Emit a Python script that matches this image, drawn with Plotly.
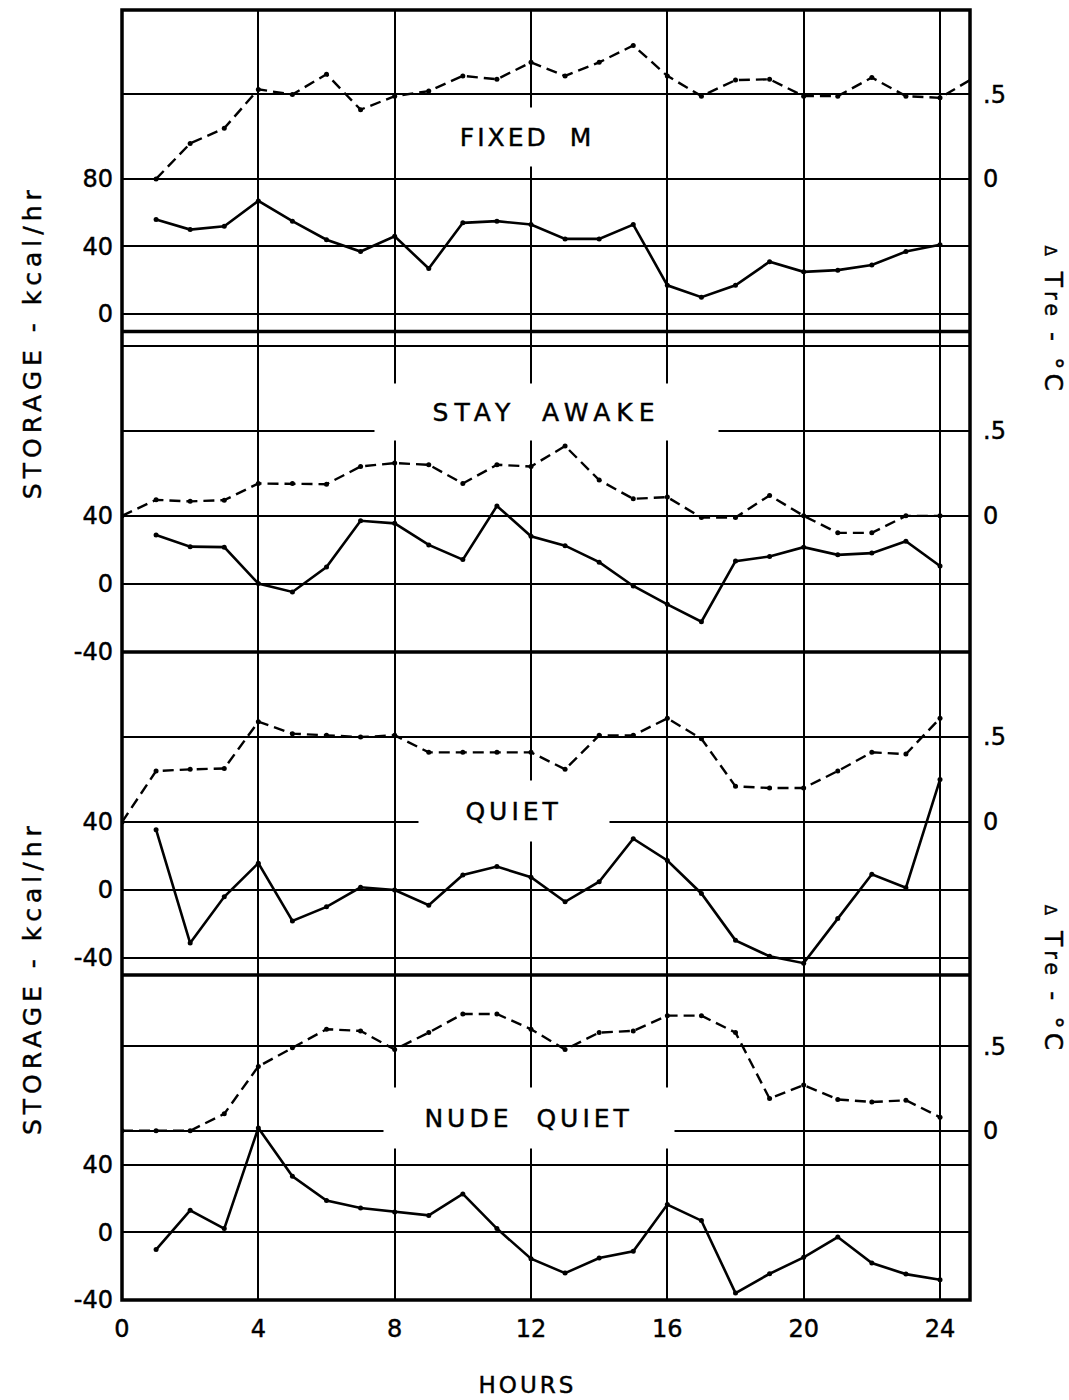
import plotly.graph_objects as go

# ---------------- data ----------------
hours_1_24 = list(range(1, 25))
hours_0_24 = list(range(0, 25))
hours_1_25 = list(range(1, 26))

x_tick_vals = [0, 4, 8, 12, 16, 20, 24]
x_tick_text = ["0", "4", "8", "12", "16", "20", "24"]

panel_titles = ["FIXED M", "STAY AWAKE", "QUIET", "NUDE QUIET"]

# FIXED M
fixed_storage = [56, 50, 52, 67, 55, 44, 37, 46, 27, 54, 55, 53, 44.5, 44.5, 53,
                 17, 10, 17, 31, 25, 26, 29, 37, 41]
fixed_tre = [0.0, 0.21, 0.30, 0.53, 0.50, 0.62, 0.41, 0.49, 0.52, 0.61, 0.59, 0.69,
             0.61, 0.69, 0.79, 0.61, 0.49, 0.585, 0.59, 0.49, 0.49, 0.60, 0.49, 0.48, 0.60]

# STAY AWAKE
awake_storage = [28.7, 21.9, 21.6, 0.2, -4.7, 9.9, 37.1, 35.6, 22.9, 14.3, 45.8, 28,
                 22.5, 12.8, -1.2, -12, -22.2, 13.4, 16.1, 21.6, 17.1, 18.1, 25.1, 10.5]
awake_tre = [0.0, 0.094, 0.085, 0.092, 0.19, 0.19, 0.186, 0.29, 0.31, 0.30, 0.19, 0.30,
             0.29, 0.41, 0.21, 0.10, 0.11, -0.01, -0.01, 0.12, 0.0, -0.10, -0.10, 0.0, 0.0]

# QUIET
quiet_storage = [35.5, -31.2, -4, 15.8, -18.2, -9.9, 1.6, 0, -8.9, 8.9, 13.8, 7.5,
                 -6.9, 4.9, 30.2, 17.4, -2, -29.6, -39, -43, -16.8, 9.3, 1.4, 65]
quiet_tre = [0.0, 0.30, 0.31, 0.315, 0.59, 0.52, 0.51, 0.50, 0.51, 0.41, 0.41, 0.41,
             0.41, 0.31, 0.51, 0.51, 0.61, 0.49, 0.21, 0.20, 0.20, 0.30, 0.41, 0.40, 0.61]

# NUDE QUIET
nude_storage = [-10.2, 13, 2.2, 61.7, 33.1, 18.8, 14.4, 12, 10, 22.7, 2.2, -15.6,
                -24.1, -15.2, -11.2, 16.4, 6.9, -35.9, -24.5, -14.8, -2.8, -18.2, -24.7, -28]
nude_tre = [0.0, 0.0, 0.0, 0.10, 0.38, 0.49, 0.60, 0.59, 0.48, 0.58, 0.69, 0.69,
            0.60, 0.48, 0.58, 0.59, 0.68, 0.68, 0.58, 0.19, 0.27, 0.185, 0.17, 0.18, 0.08]

# ---------------- per-panel configuration ----------------
panels = [
    dict(s_x=hours_1_24, s=fixed_storage, t_x=hours_1_25, t=fixed_tre,
         domain=[0.7512, 1.0], s_range=[-10, 180], t_range=[-0.9, 1.0],
         s_ticks=[0, 40, 80], s_text=["0", "40", "80"],
         t_ticks=[0, 0.5], t_text=["0", ".5"],
         title_x=11.88, title_y=0.25, box_w=150, box_h=58),
    dict(s_x=hours_1_24, s=awake_storage, t_x=hours_0_24, t=awake_tre,
         domain=[0.5023, 0.7504], s_range=[-40, 148], t_range=[-0.8, 1.08],
         s_ticks=[-40, 0, 40], s_text=["-40", "0", "40"],
         t_ticks=[0, 0.5, 1.0], t_text=["0", ".5", ""],
         title_x=12.46, title_y=0.61, box_w=343, box_h=56),
    dict(s_x=hours_1_24, s=quiet_storage, t_x=hours_0_24, t=quiet_tre,
         domain=[0.2519, 0.5023], s_range=[-50, 140], t_range=[-0.9, 1.0],
         s_ticks=[-40, 0, 40], s_text=["-40", "0", "40"],
         t_ticks=[0, 0.5], t_text=["0", ".5"],
         title_x=11.5, title_y=0.067, box_w=190, box_h=60),
    dict(s_x=hours_1_24, s=nude_storage, t_x=hours_0_24, t=nude_tre,
         domain=[0.0, 0.2519], s_range=[-40, 152], t_range=[-1.0, 0.92],
         s_ticks=[-40, 0, 40], s_text=["-40", "0", "40"],
         t_ticks=[0, 0.5], t_text=["0", ".5"],
         title_x=11.95, title_y=0.078, box_w=290, box_h=60),
]

FONT = "DejaVu Sans"
BLACK = "#000000"

fig = go.Figure()
layout = dict(
    width=1069, height=1400,
    margin=dict(l=122, r=99, t=10, b=100),
    paper_bgcolor="white", plot_bgcolor="white",
    showlegend=False,
    font=dict(family=FONT, size=24, color=BLACK),
    xaxis=dict(range=[0, 24.88], tickvals=x_tick_vals, ticktext=x_tick_text,
               showgrid=True, gridcolor=BLACK, gridwidth=1.6, zeroline=False,
               showline=False, ticks="", anchor="y7", domain=[0, 1],
               ticklabelstandoff=12, tickfont=dict(size=24, family=FONT)),
)

annotations = []
letter_css = ["html, body { margin: 0; padding: 0; }",
              ".main-svg text { stroke: #000; stroke-width: 0.45px; }"]

for i, p in enumerate(panels):
    ys = "y" if i == 0 else f"y{2 * i + 1}"
    yt = f"y{2 * i + 2}"
    ys_key = "yaxis" if i == 0 else f"yaxis{2 * i + 1}"
    yt_key = f"yaxis{2 * i + 2}"

    layout[ys_key] = dict(domain=p["domain"], range=p["s_range"], tickvals=p["s_ticks"],
                          ticktext=p["s_text"], showgrid=True, gridcolor=BLACK, gridwidth=1.6,
                          zeroline=False, showline=False, ticks="", anchor="x", side="left",
                          ticklabelstandoff=8, tickfont=dict(size=24, family=FONT))
    layout[yt_key] = dict(overlaying=ys, range=p["t_range"], tickvals=p["t_ticks"],
                          ticktext=p["t_text"], showgrid=True, gridcolor=BLACK, gridwidth=1.6,
                          zeroline=False, showline=False, ticks="", anchor="x", side="right",
                          ticklabelstandoff=12, tickfont=dict(size=24, family=FONT))

    fig.add_trace(go.Scatter(x=p["s_x"], y=p["s"], xaxis="x", yaxis=ys, mode="lines+markers",
                             line=dict(color=BLACK, width=2.6),
                             marker=dict(color=BLACK, size=5), cliponaxis=True,
                             name=panel_titles[i] + " storage"))
    fig.add_trace(go.Scatter(x=p["t_x"], y=p["t"], xaxis="x", yaxis=yt, mode="lines+markers",
                             line=dict(color=BLACK, width=2.4, dash="11px,6px"),
                             marker=dict(color=BLACK, size=5), cliponaxis=True,
                             name=panel_titles[i] + " ΔTre"))

    annotations.append(dict(text=panel_titles[i], x=p["title_x"], y=p["title_y"],
                            xref="x", yref=yt, showarrow=False, bgcolor="white",
                            width=p["box_w"], height=p["box_h"], borderpad=0,
                            align="center", valign="middle",
                            font=dict(size=25, family=FONT, color=BLACK)))

title_spacing = {0: (3, 10), 1: (6, 12), 2: (4, 0), 3: (4, 12)}
for idx, (ls, ws) in title_spacing.items():
    letter_css.append(f'g.annotation[data-index="{idx}"] text {{ letter-spacing: {ls}px; word-spacing: {ws}px; }}')

# axis titles
tre_title = "<span style='font-size:15px'>Δ</span> T<span style='font-size:21px'>re</span> - °C"
axis_titles = [
    dict(text="STORAGE - kcal/hr", x=-0.106, y=0.743, textangle=-90, ls=5),
    dict(text="STORAGE - kcal/hr", x=-0.106, y=0.250, textangle=-90, ls=5),
    dict(text=tre_title, x=1.098, y=0.760, textangle=90, ls=4),
    dict(text=tre_title, x=1.098, y=0.249, textangle=90, ls=4),
]
for a in axis_titles:
    idx = len(annotations)
    annotations.append(dict(text=a["text"], x=a["x"], y=a["y"], xref="paper", yref="paper",
                            showarrow=False, textangle=a["textangle"],
                            xanchor="center", yanchor="middle",
                            font=dict(size=25, family=FONT, color=BLACK)))
    letter_css.append(f'g.annotation[data-index="{idx}"] text {{ letter-spacing: {a["ls"]}px; }}')

idx = len(annotations)
annotations.append(dict(text="HOURS", x=0.478, y=-0.066, xref="paper", yref="paper",
                        showarrow=False, xanchor="center", yanchor="middle",
                        font=dict(size=23, family=FONT, color=BLACK)))
letter_css.append(f'g.annotation[data-index="{idx}"] text {{ letter-spacing: 3px; }}')

layout["annotations"] = annotations

# frame and panel separators
shapes = [dict(type="rect", xref="paper", yref="paper", x0=0, x1=1, y0=0, y1=1,
               line=dict(color=BLACK, width=3.5))]
for yb in [0.7508, 0.5023, 0.2519]:
    shapes.append(dict(type="line", xref="paper", yref="paper", x0=0, x1=1, y0=yb, y1=yb,
                       line=dict(color=BLACK, width=3.5)))
layout["shapes"] = shapes

fig.update_layout(**layout)

css = "\n".join(letter_css)
post = ("var st=document.createElement('style');st.innerHTML=`" + css +
        "`;document.head.appendChild(st);")
fig.write_html("out.html", post_script=post, config={"displayModeBar": False})
